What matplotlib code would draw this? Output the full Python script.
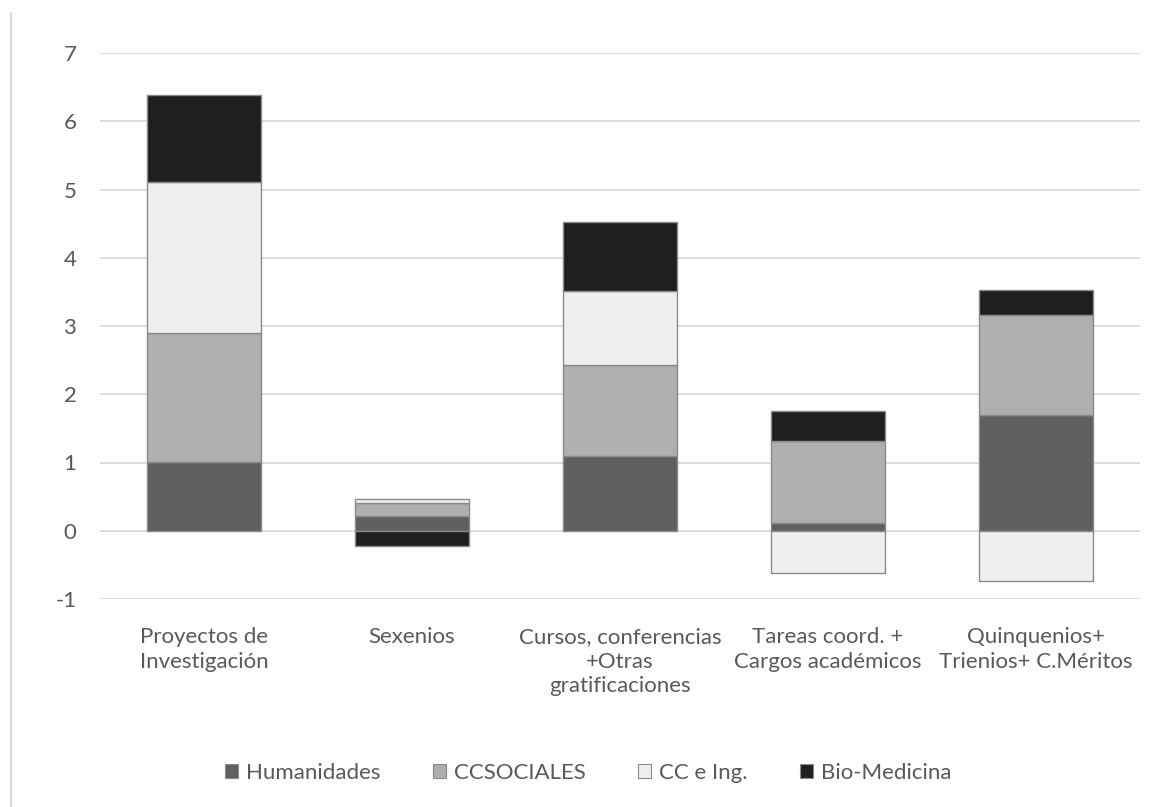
import matplotlib
matplotlib.use("Agg")
import matplotlib.pyplot as plt
from matplotlib.lines import Line2D
from matplotlib.patches import Patch
import numpy as np

categories = [
    "Proyectos de\nInvestigación",
    "Sexenios",
    "Cursos, conferencias\n+Otras\ngratificaciones",
    "Tareas coord. +\nCargos académicos",
    "Quinquenios+\nTrienios+ C.Méritos",
]
series_names = ["Humanidades", "CCSOCIALES", "CC e Ing.", "Bio-Medicina"]
humanidades = [1.01, 0.22, 1.10, 0.12, 1.70]
ccsociales = [1.89, 0.19, 1.33, 1.20, 1.46]
cc_ing = [2.21, 0.06, 1.08, -0.62, -0.74]
bio_medicina = [1.27, -0.23, 1.02, 0.43, 0.37]
yticks = [-1, 0, 1, 2, 3, 4, 5, 6, 7]

series = [humanidades, ccsociales, cc_ing, bio_medicina]
colors = ["#5f5f5f", "#afafaf", "#efefef", "#1f1f1f"]
edge = "#8a8a8a"
text_color = "#595959"
fs = 16

plt.rcParams["font.family"] = ["Lato", "DejaVu Sans"]

fig = plt.figure(figsize=(11.54, 8.07), dpi=100)
ax = fig.add_axes([100 / 1154, 1 - 599 / 807, 1040 / 1154, 546 / 807])

x = np.arange(len(categories))
pos_base = np.zeros(len(categories))
neg_base = np.zeros(len(categories))
for vals, col in zip(series, colors):
    v = np.array(vals)
    base = np.where(v >= 0, pos_base, neg_base)
    ax.bar(x, v, width=0.55, bottom=base, color=col, edgecolor=edge,
           linewidth=1.0, zorder=3)
    pos_base = pos_base + np.where(v >= 0, v, 0)
    neg_base = neg_base + np.where(v < 0, v, 0)

ax.set_xlim(-0.5, len(categories) - 0.5)
ax.set_ylim(-1, 7)
ax.set_yticks(yticks)
ax.set_yticklabels([str(t) for t in yticks])
ax.set_xticks(x)
ax.set_xticklabels(categories, linespacing=1.3)
ax.grid(axis="y", color="#d9d9d9", linewidth=1.3, zorder=0)
ax.set_axisbelow(True)
for s in ax.spines.values():
    s.set_visible(False)
ax.tick_params(axis="y", length=0, pad=17, labelsize=fs, labelcolor=text_color)
ax.tick_params(axis="x", length=0, pad=20, labelsize=fs, labelcolor=text_color)

handles = [Patch(facecolor=c, edgecolor=edge, linewidth=0.8) for c in colors]
fig.legend(handles, series_names, loc="center", bbox_to_anchor=(588 / 1154, 1 - 773 / 807),
           ncol=4, frameon=False, fontsize=fs, labelcolor=text_color,
           handlelength=0.6, handleheight=0.6, handletextpad=0.35,
           columnspacing=2.35)

fig.add_artist(Line2D([11.5 / 1154, 11.5 / 1154], [1 - 13 / 807, 0],
                      transform=fig.transFigure, color="#d9d9d9", linewidth=1.5))

fig.savefig("out.png", dpi=100, facecolor="white")
